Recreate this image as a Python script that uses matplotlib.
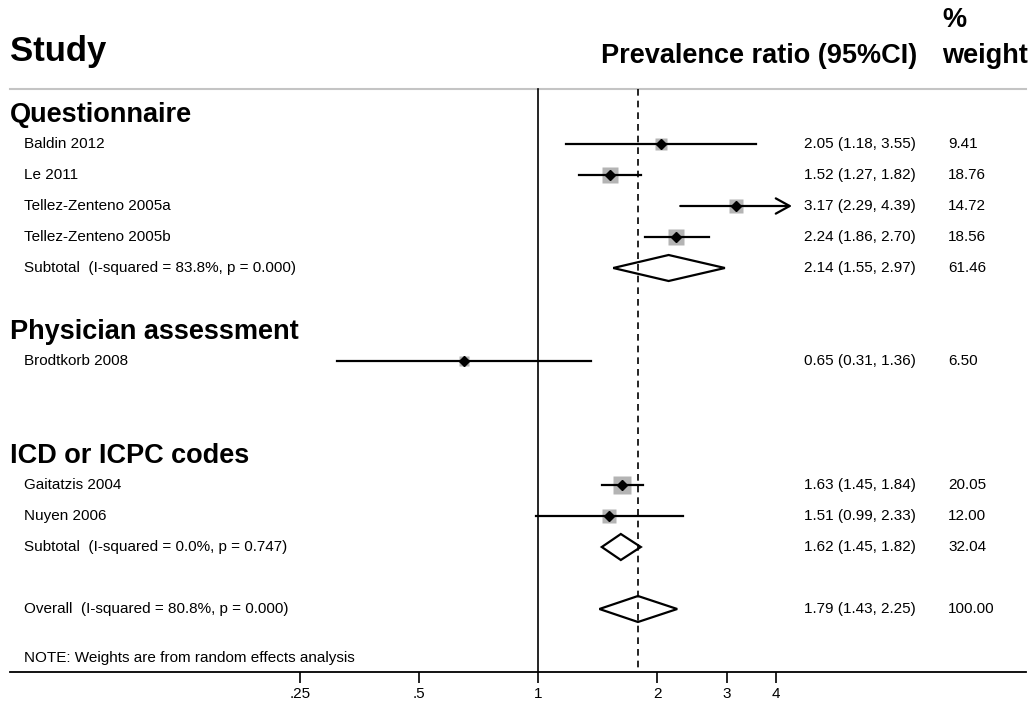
import numpy as np
import matplotlib
matplotlib.use("Agg")
import matplotlib.pyplot as plt
from matplotlib.patches import Polygon

plt.rcParams['font.family'] = ['Liberation Sans', 'DejaVu Sans']

groups = ["Questionnaire", "Physician assessment", "ICD or ICPC codes"]
studies = ["Baldin 2012", "Le 2011", "Tellez-Zenteno 2005a", "Tellez-Zenteno 2005b",
           "Brodtkorb 2008", "Gaitatzis 2004", "Nuyen 2006"]
study_group = [0, 0, 0, 0, 1, 2, 2]
pr = [2.05, 1.52, 3.17, 2.24, 0.65, 1.63, 1.51]
lo = [1.18, 1.27, 2.29, 1.86, 0.31, 1.45, 0.99]
hi = [3.55, 1.82, 4.39, 2.70, 1.36, 1.84, 2.33]
weight = [9.41, 18.76, 14.72, 18.56, 6.50, 20.05, 12.00]

sub_group = [0, 2]
sub_i2 = [83.8, 0.0]
sub_p = [0.000, 0.747]
sub_pr = [2.14, 1.62]
sub_lo = [1.55, 1.45]
sub_hi = [2.97, 1.82]
sub_w = [61.46, 32.04]

ov_pr, ov_lo, ov_hi, ov_w = 1.79, 1.43, 2.25, 100.00
ov_i2, ov_p = 80.8, 0.000

ticks = [0.25, 0.5, 1, 2, 3, 4]
tick_labels = [".25", ".5", "1", "2", "3", "4"]

# pixel helpers (figure is 1034 x 702 at 100 dpi)
W, H = 1034, 702
X0, X1 = 10, 1026        # axis line ends
YB = 672                 # axis line height
PX_ONE, PX_OCT = 538, 119
ROW0, ROWH = 113, 31

def fx(px):
    return (px - X0) / (X1 - X0)

fig = plt.figure(figsize=(W / 100, H / 100), dpi=100)
ax = fig.add_axes([X0 / W, (H - YB) / H, (X1 - X0) / W, YB / H])
ax.set_xscale('log', base=2)
ax.set_xlim(2 ** ((X0 - PX_ONE) / PX_OCT), 2 ** ((X1 - PX_ONE) / PX_OCT))
ax.set_ylim((YB - ROW0) / ROWH, -ROW0 / ROWH)
for s in ['top', 'left', 'right']:
    ax.spines[s].set_visible(False)
ax.spines['bottom'].set_linewidth(1.3)
ax.set_yticks([])
ax.set_xticks(ticks)
ax.set_xticklabels(tick_labels)
ax.minorticks_off()
ax.tick_params(axis='x', length=8, width=1.2, pad=3, labelsize=11)

tr = ax.get_yaxis_transform()
line_row = (89 - ROW0) / ROWH

# headers
ax.text(fx(10), (52 - ROW0) / ROWH, "Study", transform=tr, fontsize=25,
        fontweight='bold', va='center', ha='left')
ax.text(fx(917), (56 - ROW0) / ROWH, "Prevalence ratio (95%CI)", transform=tr,
        fontsize=19.5, fontweight='bold', va='center', ha='right')
ax.text(fx(942), (20 - ROW0) / ROWH, "%", transform=tr,
        fontsize=19.5, fontweight='bold', va='center', ha='left')
ax.text(fx(942), (56 - ROW0) / ROWH, "weight", transform=tr,
        fontsize=19.5, fontweight='bold', va='center', ha='left')
ax.plot([0, 1], [line_row, line_row], transform=tr, color='#c4c4c4', lw=1.5,
        clip_on=False)

# reference lines
ybot = ax.get_ylim()[0]
ax.plot([1, 1], [line_row, ybot], color='black', lw=1.2)
ax.plot([ov_pr, ov_pr], [line_row, ybot], color='black', lw=1.2, dashes=(4, 3))

def est_text(row, p, l, h, w):
    ax.text(fx(804), row, f"{p:.2f} ({l:.2f}, {h:.2f})", transform=tr,
            fontsize=11, va='center', ha='left')
    ax.text(fx(948), row, f"{w:.2f}", transform=tr, fontsize=11,
            va='center', ha='left')

def diamond(row, p, l, h):
    hh = 13 / ROWH
    ax.add_patch(Polygon([(l, row), (p, row - hh), (h, row), (p, row + hh)],
                         closed=True, fill=False, ec='black', lw=1.6))

xmax_plot = 4.3
row = 0
for g, gname in enumerate(groups):
    ax.text(fx(10), row + 0.08, gname, transform=tr, fontsize=19.5,
            fontweight='bold', va='center', ha='left')
    row += 1
    for i in [k for k, sg in enumerate(study_group) if sg == g]:
        ax.plot(pr[i], row, marker='s', ms=2.8 * np.sqrt(weight[i]),
                color='#b4b4b4', mec='none', zorder=2)
        if hi[i] > xmax_plot:
            ax.annotate('', xy=(hi[i], row), xytext=(lo[i], row),
                        arrowprops=dict(arrowstyle='->,head_length=1.0,head_width=0.55',
                                        lw=1.6, color='black', shrinkA=0, shrinkB=0),
                        zorder=3)
        else:
            ax.plot([lo[i], hi[i]], [row, row], color='black', lw=1.6, zorder=3)
        ax.plot(pr[i], row, marker='D', ms=5, color='black', zorder=4)
        ax.text(fx(24), row, studies[i], transform=tr, fontsize=11,
                va='center', ha='left')
        est_text(row, pr[i], lo[i], hi[i], weight[i])
        row += 1
    if g in sub_group:
        j = sub_group.index(g)
        ax.text(fx(24), row,
                f"Subtotal  (I-squared = {sub_i2[j]:.1f}%, p = {sub_p[j]:.3f})",
                transform=tr, fontsize=11, va='center', ha='left')
        diamond(row, sub_pr[j], sub_lo[j], sub_hi[j])
        est_text(row, sub_pr[j], sub_lo[j], sub_hi[j], sub_w[j])
    row += 2

ax.text(fx(24), row, f"Overall  (I-squared = {ov_i2:.1f}%, p = {ov_p:.3f})",
        transform=tr, fontsize=11, va='center', ha='left')
diamond(row, ov_pr, ov_lo, ov_hi)
est_text(row, ov_pr, ov_lo, ov_hi, ov_w)

ax.text(fx(24), (658 - ROW0) / ROWH, "NOTE: Weights are from random effects analysis",
        transform=tr, fontsize=11, va='center', ha='left')

fig.savefig("out.png", dpi=100)
